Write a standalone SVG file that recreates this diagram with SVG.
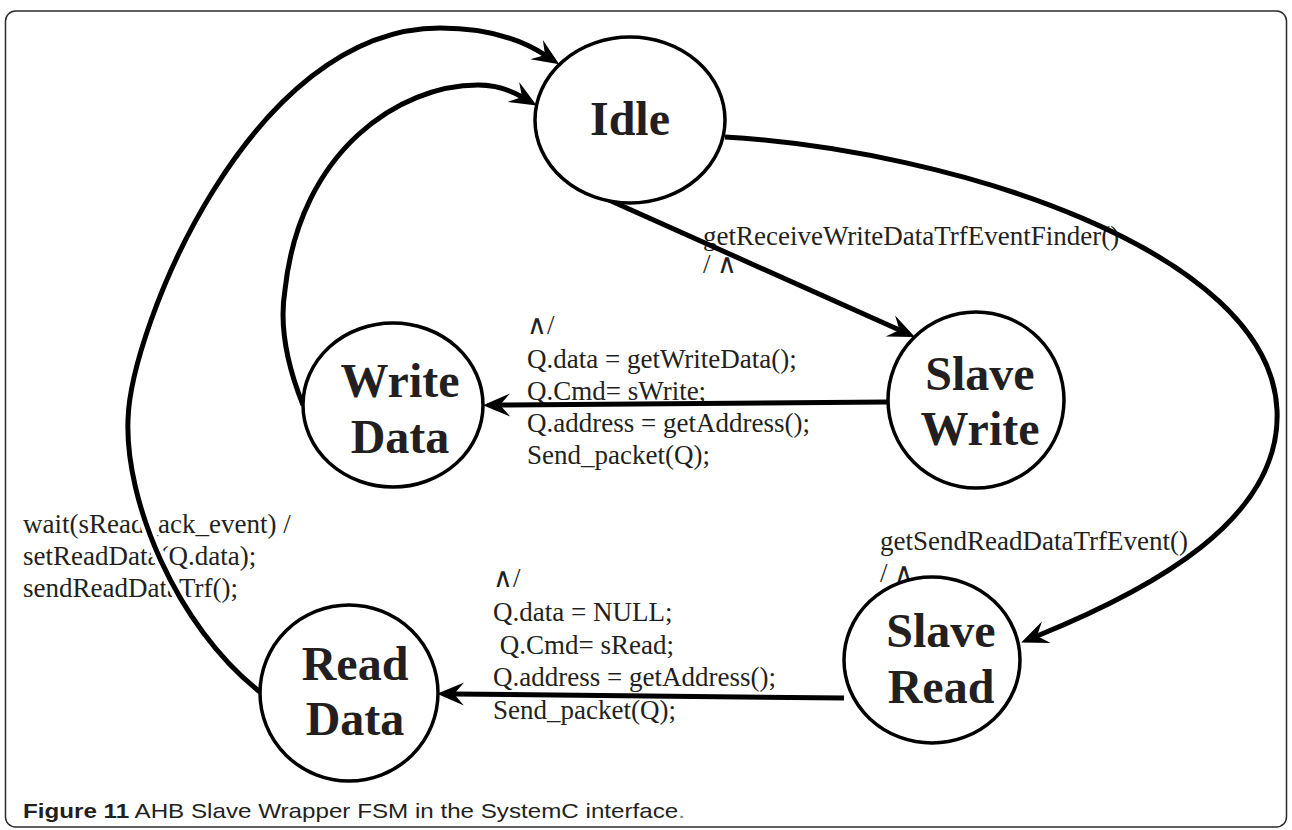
<svg xmlns="http://www.w3.org/2000/svg" width="1292" height="830" viewBox="0 0 1292 830">
<style>
.frame{fill:#fff;stroke:#2b2b2b;stroke-width:1.5}
.node{fill:#fff;stroke:#000;stroke-width:3.5}
.nl{font-family:"Liberation Serif","Times New Roman",serif;font-weight:bold;font-size:48px;fill:#231f20;text-anchor:middle}
.el{font-family:"Liberation Serif","Times New Roman",serif;font-size:27px;fill:#231f20}
.edge{fill:none;stroke:#000;stroke-width:5}
.halo{fill:none;stroke:#fff;stroke-width:13}
.cap{font-family:"Liberation Sans",Arial,sans-serif;font-size:21px;fill:#231f20}
</style>
<defs>
<marker id="ah" markerUnits="userSpaceOnUse" orient="auto" overflow="visible" refX="0" refY="0" markerWidth="30" markerHeight="30">
<path d="M17,0 L-10,-11.5 L0,0 L-10,11.5 Z" fill="#000"/>
</marker>
</defs>
<rect class="frame" x="5.5" y="11" width="1281" height="816" rx="10"/>
<g id="labels">
<text class="el" x="703" y="245">getReceiveWriteDataTrfEventFinder()</text>
<text class="el" x="703" y="273">/ ∧</text>
<text class="el" x="527" y="334">∧/</text>
<text class="el" x="527" y="368">Q.data = getWriteData();</text>
<text class="el" x="527" y="400">Q.Cmd= sWrite;</text>
<text class="el" x="527" y="432">Q.address = getAddress();</text>
<text class="el" x="527" y="464">Send_packet(Q);</text>
<text class="el" x="880" y="550">getSendReadDataTrfEvent()</text>
<text class="el" x="880" y="582">/ ∧</text>
<text class="el" x="493" y="587">∧/</text>
<text class="el" x="493" y="621">Q.data = NULL;</text>
<text class="el" x="493" y="654" xml:space="preserve"> Q.Cmd= sRead;</text>
<text class="el" x="493" y="686">Q.address = getAddress();</text>
<text class="el" x="493" y="719">Send_packet(Q);</text>
<text class="el" x="23" y="533">wait(sRead_ack_event) /</text>
<text class="el" x="23" y="565">setReadData(Q.data);</text>
<text class="el" x="23" y="597">sendReadDataTrf();</text>
</g>
<g id="connectors">
<path class="halo" d="M260,692 C175,625 125,500 128,420 C130,330 250,28 440,28 C490,28 522,40 545,55"/>
<path class="edge" marker-end="url(#ah)" d="M260,692 C175,625 125,500 128,420 C130,330 250,28 440,28 C490,28 522,40 545,55"/>
<path class="edge" marker-end="url(#ah)" d="M303,405 C285,360 280,320 285,290 C300,150 400,85 478,85 C495,85 510,90 522,97"/>
<path class="edge" marker-end="url(#ah)" d="M591,192 L899.5,330"/>
<path class="edge" marker-end="url(#ah)" d="M725,137 C950,150 1270,250 1277,410 C1282,520 1150,590 1037,636"/>
<path class="edge" marker-end="url(#ah)" d="M888,402 L500,405"/>
<path class="edge" marker-end="url(#ah)" d="M844,698 L454,694"/>
</g>
<g id="idle">
<ellipse class="node" cx="630" cy="120" rx="95" ry="83"/>
<text class="nl" x="630" y="135">Idle</text>
</g>
<g id="slave-write">
<ellipse class="node" cx="976" cy="400" rx="88" ry="88"/>
<text class="nl" x="980" y="390">Slave</text>
<text class="nl" x="980" y="445">Write</text>
</g>
<g id="write-data">
<ellipse class="node" cx="393" cy="405" rx="90" ry="82"/>
<text class="nl" x="400" y="397">Write</text>
<text class="nl" x="400" y="453">Data</text>
</g>
<g id="slave-read">
<ellipse class="node" cx="932" cy="660" rx="88" ry="83"/>
<text class="nl" x="941" y="647">Slave</text>
<text class="nl" x="941" y="703">Read</text>
</g>
<g id="read-data">
<ellipse class="node" cx="349" cy="693" rx="89" ry="88"/>
<text class="nl" x="355" y="680">Read</text>
<text class="nl" x="355" y="735">Data</text>
</g>
<text class="cap" x="23" y="818" textLength="662" lengthAdjust="spacingAndGlyphs"><tspan font-weight="bold">Figure 11</tspan> AHB Slave Wrapper FSM in the SystemC interface<tspan fill="#777">.</tspan></text>
</svg>
